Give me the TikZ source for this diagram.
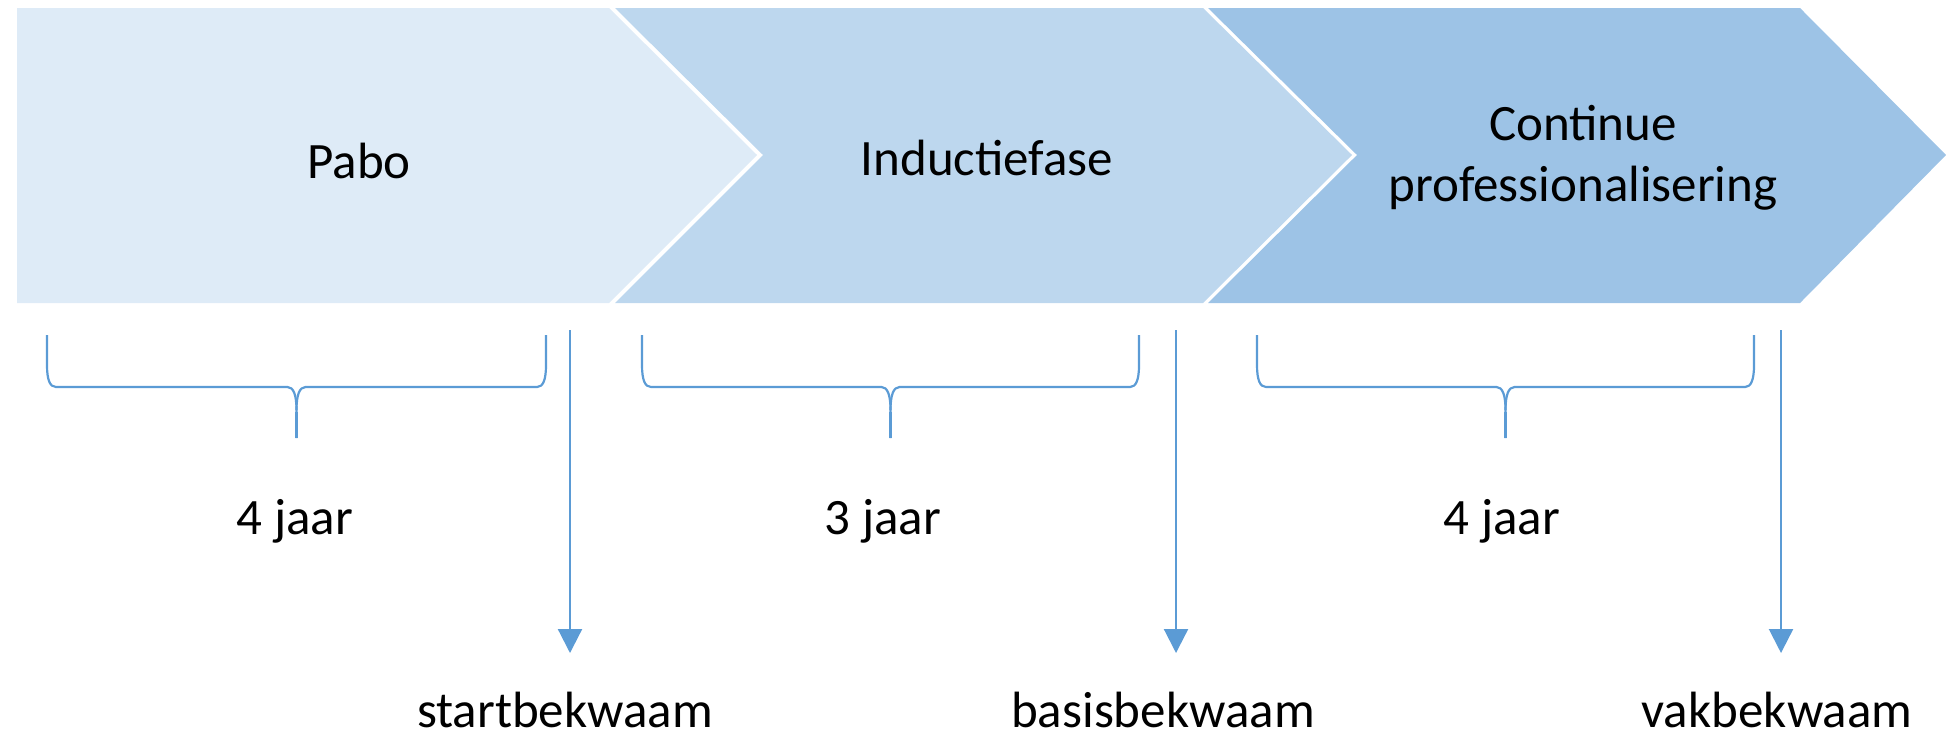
\documentclass[tikz,border=0pt]{standalone}
\usepackage{fontspec}
\setmainfont{Carlito}
\usetikzlibrary{arrows.meta}
\definecolor{cA}{HTML}{DEEBF7}
\definecolor{cB}{HTML}{BDD7EE}
\definecolor{cC}{HTML}{9DC3E6}
\definecolor{cL}{HTML}{5B9BD5}
\tikzset{
  lbl/.style={font=\fontsize{12.75}{15.2}\selectfont,align=center,inner sep=0pt,text=black},
  brace/.style={draw=cL,line width=0.55pt},
  milestone/.style={draw=cL,line width=0.55pt,-{Triangle[width=6pt,length=6pt]}}
}
\begin{document}
\begin{tikzpicture}[x=0.25pt,y=-0.25pt]
\useasboundingbox (0,0) rectangle (1946,740);
% chevrons
\fill[cA] (17,8) -- (609,8) -- (757,155) -- (609,303) -- (17,303) -- cycle;
\fill[cB] (615,8) -- (1203,8) -- (1352,155) -- (1203,303) -- (615,303) -- (763,155) -- cycle;
\fill[cC] (1208,8) -- (1800,8) -- (1946,155) -- (1800,303) -- (1208,303) -- (1357,155) -- cycle;
% titles
\node[lbl] (pabo) at (359,161) {Pabo};
\node[lbl] (ind) at (987,158) {Inductiefase};
\node[lbl] (cont) at (1583,158) {Continue\\professionalisering};
% braces
\foreach \l/\r in {47/546, 642/1139, 1257/1754}{
  \pgfmathsetmacro{\m}{(\l+\r)/2}
  \draw[brace] (\l,335) -- (\l,365) .. controls (\l,380) and (\l+3,387) .. (\l+9,387)
    -- (\m-9,387) .. controls (\m-3,387) and (\m,395) .. (\m,410) -- (\m,438);
  \draw[brace] (\r,335) -- (\r,365) .. controls (\r,380) and (\r-3,387) .. (\r-9,387)
    -- (\m+9,387) .. controls (\m+3,387) and (\m,395) .. (\m,410);
  \draw[cL,line width=0.9pt] (\m,412) -- (\m,438);
}
\node[lbl] (d1) at (295,521) {4 jaar};
\node[lbl] (d2) at (883,521) {3 jaar};
\node[lbl] (d3) at (1502,521) {4 jaar};
% milestones
\coordinate (s1) at (570,330); \coordinate (e1) at (570,653);
\coordinate (s2) at (1176,330); \coordinate (e2) at (1176,653);
\coordinate (s3) at (1781,330); \coordinate (e3) at (1781,653);
\draw[milestone] (s1) -- (e1);
\draw[milestone] (s2) -- (e2);
\draw[milestone] (s3) -- (e3);
\node[lbl,anchor=base] (m1) at (565,727) {startbekwaam};
\node[lbl,anchor=base] (m2) at (1163,727) {basisbekwaam};
\node[lbl,anchor=base] (m3) at (1777,727) {vakbekwaam};
\end{tikzpicture}
\end{document}
